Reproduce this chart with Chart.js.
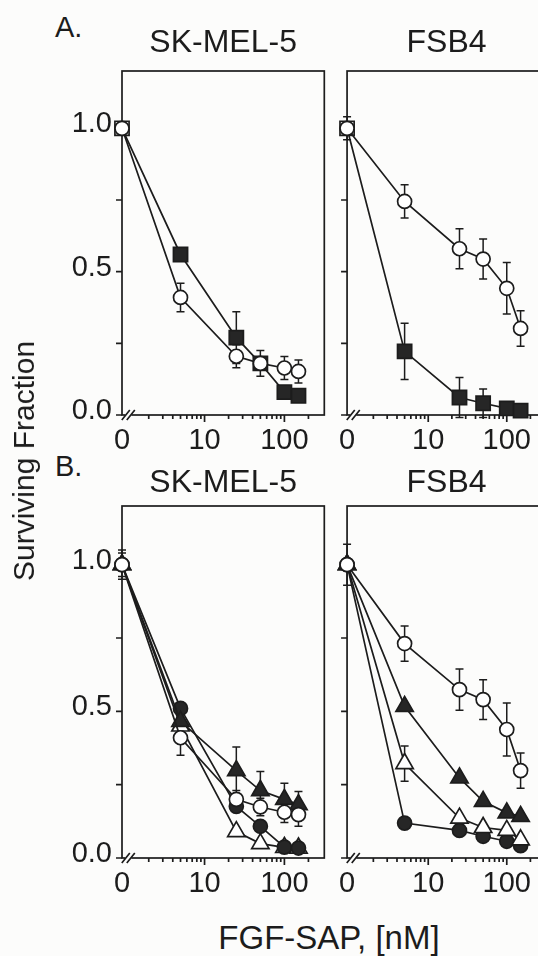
<!DOCTYPE html>
<html>
<head>
<meta charset="utf-8">
<script src="https://cdn.jsdelivr.net/npm/chart.js@4.4.1/dist/chart.umd.min.js"></script>
<style>
  html, body { margin: 0; padding: 0; background: #fcfcfb; overflow: hidden; }
  #page { position: relative; width: 538px; height: 956px; overflow: hidden;
          font-family: 'Liberation Sans', Arial, sans-serif; color: #1c1c1c; }
  .panel { position: absolute; }
  .letter { position: absolute; font-size: 29px; line-height: 1; }
  #ylabel { position: absolute; left: 24px; top: 461px; font-size: 30px; line-height: 1;
            white-space: nowrap; transform: translate(-50%, -50%) rotate(-90deg); }
  #xlabel { position: absolute; left: 329px; top: 937px; font-size: 33px; line-height: 1;
            white-space: nowrap; transform: translate(-50%, -50%); }
</style>
</head>
<body>
<div id="page">
  <div class="letter" style="left:55px; top:13px">A.</div>
  <div class="letter" style="left:55px; top:452px">B.</div>
  <div class="panel" style="left:0; top:0; width:336px; height:457px"><canvas id="aSk"></canvas></div>
  <div class="panel" style="left:330px; top:0; width:230px; height:457px"><canvas id="aFs"></canvas></div>
  <div class="panel" style="left:0; top:440px; width:336px; height:460px"><canvas id="bSk"></canvas></div>
  <div class="panel" style="left:330px; top:440px; width:230px; height:460px"><canvas id="bFs"></canvas></div>
  <div id="ylabel">Surviving Fraction</div>
  <div id="xlabel">FGF-SAP, [nM]</div>
</div>
<script>
// FGF-SAP concentration (nM); 0 is drawn at the axis break
const conc = [0, 5, 25, 50, 100, 150];
const xTickLabels = ['0', '10', '100'];
const yTickLabels = ['0.0', '0.5', '1.0'];

// A. SK-MEL-5
const aSkOpenCircle = [1.0, 0.41, 0.205, 0.18, 0.164, 0.152];
const aSkOpenCircleErr = [0.02, 0.05, 0.04, 0.045, 0.04, 0.04];
const aSkFilledSquare = [1.0, 0.56, 0.27, 0.18, 0.08, 0.067];
const aSkFilledSquareErr = [0, 0, 0.09, 0, 0, 0];

// A. FSB4
const aFsOpenCircle = [1.0, 0.745, 0.58, 0.544, 0.442, 0.302];
const aFsOpenCircleErr = [0.04, 0.058, 0.07, 0.07, 0.09, 0.062];
const aFsFilledSquare = [1.0, 0.222, 0.061, 0.041, 0.023, 0.015];
const aFsFilledSquareErr = [0, 0.098, 0.07, 0.05, 0, 0];

// B. SK-MEL-5
const bSkOpenCircle = [1.0, 0.41, 0.2, 0.174, 0.156, 0.148];
const bSkOpenCircleErr = [0.05, 0.06, 0.03, 0.03, 0.035, 0.04];
const bSkFilledTri = [1.0, 0.466, 0.298, 0.23, 0.2, 0.182];
const bSkFilledTriErr = [0.04, 0, 0.08, 0.065, 0.055, 0.045];
const bSkOpenTri = [1.0, 0.45, 0.09, 0.049, 0.036, 0.034];
const bSkFilledCircle = [1.0, 0.51, 0.176, 0.108, 0.037, 0.034];

// B. FSB4
const bFsOpenCircle = [1.0, 0.731, 0.574, 0.54, 0.438, 0.298];
const bFsOpenCircleErr = [0.07, 0.06, 0.07, 0.068, 0.09, 0.06];
const bFsFilledTri = [1.0, 0.517, 0.273, 0.193, 0.154, 0.142];
const bFsOpenTri = [1.0, 0.322, 0.136, 0.104, 0.094, 0.062];
const bFsOpenTriErr = [0, 0.06, 0, 0, 0, 0];
const bFsFilledCircle = [1.0, 0.119, 0.094, 0.074, 0.057, 0.042];

const INK = '#1c1c1c';
const DARK = '#262626';
const PAPER = '#fcfcfb';
const FONT = "'Liberation Sans', Arial, sans-serif";
const LINE_W = 1.7;

// x axis runs in log10 units, with the zero dose parked at the left edge
const X_MIN = Math.log10(0.925);
const X_MAX = Math.log10(316);
const BREAK_AT = 0.045;
const xMajor = [1, 2];
const xMinor = [2, 3, 4, 5, 6, 7, 8, 9, 20, 30, 40, 50, 60, 70, 80, 90, 200].map(Math.log10);
const yMarks = [0, 0.25, 0.5, 0.75, 1.0];
const radius = { circle: 7, rect: 10, triangle: 10 };

function toAxis(c) {
    return c > 0 ? Math.log10(c) : X_MIN;
}

function series(values, errors, shape, filled, openAtZero) {
    return { values, errors, shape, filled, openAtZero };
}

function toDataset(s) {
    const bg = s.filled ? DARK : '#ffffff';
    return {
        data: conc.map((c, i) => ({ x: toAxis(c), y: s.values[i] })),
        errors: s.errors,
        borderColor: INK,
        borderWidth: LINE_W,
        pointStyle: s.shape,
        pointRadius: radius[s.shape],
        pointBackgroundColor: conc.map((c, i) => (s.openAtZero && i === 0) ? '#ffffff' : bg),
        pointBorderColor: INK,
        pointBorderWidth: LINE_W,
        tension: 0,
        clip: false
    };
}

const framePlugin = {
    id: 'frame',
    beforeDatasetsDraw(chart) {
        const { ctx, chartArea: a } = chart;
        const xs = chart.scales.x;
        const ys = chart.scales.y;
        ctx.save();
        ctx.strokeStyle = INK;
        ctx.lineWidth = LINE_W;
        ctx.strokeRect(a.left, a.top, a.right - a.left, a.bottom - a.top);

        ctx.beginPath();
        yMarks.forEach(v => {
            const py = ys.getPixelForValue(v);
            ctx.moveTo(a.left - 6, py);
            ctx.lineTo(a.left, py);
        });
        xMinor.forEach(v => {
            if (v <= X_MIN || v >= X_MAX) return;
            const px = xs.getPixelForValue(v);
            ctx.moveTo(px, a.bottom);
            ctx.lineTo(px, a.bottom + 4);
        });
        xMajor.forEach(v => {
            const px = xs.getPixelForValue(v);
            ctx.moveTo(px, a.bottom);
            ctx.lineTo(px, a.bottom + 7);
        });
        ctx.stroke();

        // axis break
        const bx = xs.getPixelForValue(BREAK_AT);
        ctx.fillStyle = PAPER;
        ctx.fillRect(bx - 3, a.bottom - 2, 6, 4);
        ctx.beginPath();
        [-2.5, 2.5].forEach(off => {
            ctx.moveTo(bx + off - 4, a.bottom + 5);
            ctx.lineTo(bx + off + 4, a.bottom - 5);
        });
        ctx.stroke();

        // error bars
        ctx.lineWidth = 1.5;
        ctx.beginPath();
        chart.data.datasets.forEach(ds => {
            if (!ds.errors) return;
            ds.data.forEach((p, i) => {
                const e = ds.errors[i];
                if (!e) return;
                const px = xs.getPixelForValue(p.x);
                const top = ys.getPixelForValue(p.y + e);
                const bot = ys.getPixelForValue(p.y - e);
                ctx.moveTo(px, top);
                ctx.lineTo(px, bot);
                ctx.moveTo(px - 4, top);
                ctx.lineTo(px + 4, top);
                ctx.moveTo(px - 4, bot);
                ctx.lineTo(px + 4, bot);
            });
        });
        ctx.stroke();
        ctx.restore();
    }
};

function makePanel(id, title, list, opts) {
    return new Chart(document.getElementById(id), {
        type: 'line',
        data: { datasets: list.map(toDataset) },
        options: {
            responsive: true,
            maintainAspectRatio: false,
            animation: false,
            layout: { padding: { left: 0, right: opts.padRight, top: 0, bottom: 0 } },
            plugins: {
                legend: { display: false },
                tooltip: { enabled: false },
                title: {
                    display: true,
                    text: title,
                    fullSize: false,
                    color: INK,
                    font: { family: FONT, size: 32, weight: 'normal' },
                    padding: { top: 24, bottom: opts.titleGap }
                }
            },
            scales: {
                x: {
                    type: 'linear',
                    min: X_MIN,
                    max: X_MAX,
                    grid: { display: false, drawTicks: false },
                    border: { display: false },
                    afterBuildTicks: s => { s.ticks = [X_MIN, 1, 2].map(v => ({ value: v })); },
                    afterFit: s => { s.height = 42; },
                    ticks: {
                        autoSkip: false,
                        maxRotation: 0,
                        padding: 9,
                        color: INK,
                        font: { family: FONT, size: 29 },
                        callback: (v, i) => xTickLabels[i]
                    }
                },
                y: {
                    min: 0,
                    max: 1.2,
                    grid: { display: false, drawTicks: false },
                    border: { display: false },
                    afterBuildTicks: s => { s.ticks = [0, 0.5, 1.0].map(v => ({ value: v })); },
                    afterFit: s => { s.width = opts.yWidth; },
                    ticks: {
                        display: opts.yLabels,
                        padding: 10,
                        labelOffset: -4,
                        color: INK,
                        font: { family: FONT, size: 29 },
                        callback: (v, i) => yTickLabels[i]
                    }
                }
            }
        },
        plugins: [framePlugin]
    });
}

const leftOpts = { yWidth: 122, padRight: 10, yLabels: true };
const rightOpts = { yWidth: 11, padRight: 14, yLabels: false };

makePanel('aSk', 'SK-MEL-5', [
    series(aSkOpenCircle, aSkOpenCircleErr, 'circle', false),
    series(aSkFilledSquare, aSkFilledSquareErr, 'rect', true, true)
], { ...leftOpts, titleGap: 8.6 });

makePanel('aFs', 'FSB4', [
    series(aFsOpenCircle, aFsOpenCircleErr, 'circle', false),
    series(aFsFilledSquare, aFsFilledSquareErr, 'rect', true, true)
], { ...rightOpts, titleGap: 8.6 });

// first listed is drawn on top
makePanel('bSk', 'SK-MEL-5', [
    series(bSkOpenCircle, bSkOpenCircleErr, 'circle', false),
    series(bSkFilledTri, bSkFilledTriErr, 'triangle', true),
    series(bSkFilledCircle, null, 'circle', true),
    series(bSkOpenTri, null, 'triangle', false)
], { ...leftOpts, titleGap: 3.6 });

makePanel('bFs', 'FSB4', [
    series(bFsOpenCircle, bFsOpenCircleErr, 'circle', false),
    series(bFsFilledTri, null, 'triangle', true),
    series(bFsOpenTri, bFsOpenTriErr, 'triangle', false),
    series(bFsFilledCircle, null, 'circle', true)
], { ...rightOpts, titleGap: 3.6 });
</script>
</body>
</html>
